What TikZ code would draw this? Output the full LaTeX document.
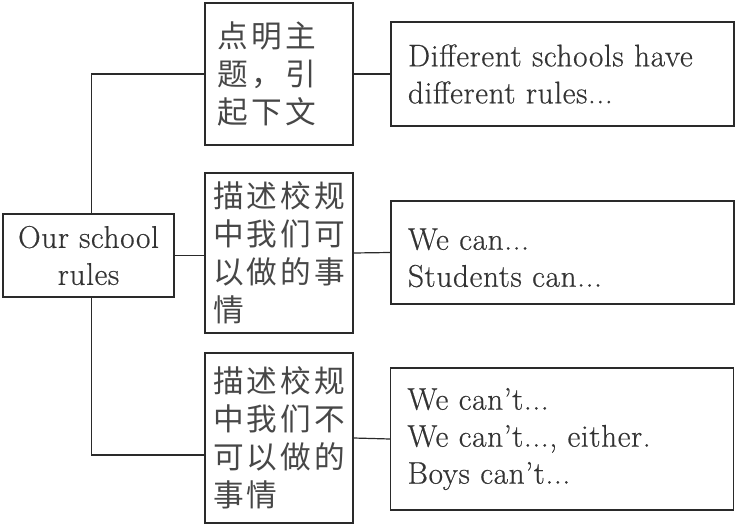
\documentclass[tikz,border=0pt]{standalone}
\usepackage{fontspec}
\setmainfont{Latin Modern Roman}[FakeBold=0.5, LetterSpace=2]
\newfontfamily\cjk{Noto Sans CJK SC}[LetterSpace=10]
\usepackage{xcolor}
\definecolor{inkline}{HTML}{2A2A2A}
\definecolor{inktext}{HTML}{333333}
\usepackage{tikz}
\usetikzlibrary{positioning,calc}

\begin{document}
\begin{tikzpicture}[x=0.75pt, y=-0.75pt,
    rootbox/.style={draw=inkline, line width=0.9pt, minimum width=128.25pt, minimum height=62.25pt, align=center, inner sep=0pt, text=inktext, font=\fontsize{23.5}{27.75}\selectfont},
    midbox/.style={draw=inkline, line width=0.9pt, minimum width=111pt, align=left, inner sep=0pt, text=inktext!90, font=\cjk\fontsize{23}{28.5}\selectfont},
    notebox/.style={draw=inkline, line width=0.9pt, text width=231.75pt, inner xsep=12.75pt, inner ysep=0pt, align=left, text=inktext, font=\fontsize{23.5}{27.75}\selectfont},
    link/.style={draw=inkline, line width=0.9pt}]
  \useasboundingbox (0,0) rectangle (736,524);
  % root and the three topics
  \node[rootbox] (root) at (88.5,255.5) {Our school\\rules};
  \node[midbox, text width=92pt, minimum height=106.5pt] (intro) at (279,74) {点明主\\题，引\\起下文};
  \node[midbox, minimum height=120pt] (can) at (279,253) {描述校规\\中我们可\\以做的事\\情};
  \node[midbox, minimum height=127.5pt] (cannot) at (279,438) {描述校规\\中我们不\\可以做的\\事情};
  % sample sentences
  \node[notebox, minimum height=78pt] (introtext) at (562.5,74) {Different~schools~have\\different~rules...};
  \node[notebox, minimum height=77.25pt] (cantext) at (562.5,252.5) {\rule{0pt}{24pt}We~can...\\Students~can...};
  \node[notebox, minimum height=106.5pt] (cannottext) at (562,439) {We~can’t...\\We~can’t...,~either.\\Boys~can’t...};
  % connectors
  \draw[link] ([xshift=2pt]root.north) |- (intro.west);
  \draw[link] (root.east) -- (root.east -| can.west);
  \draw[link] ([xshift=2pt]root.south) |- ([yshift=-12.75pt]cannot.west);
  \draw[link] (intro.east) -- (introtext.west);
  \draw[link] (can.east) -- (cantext.west);
  \draw[link] (cannot.east) -- (cannottext.west);
\end{tikzpicture}
\end{document}
